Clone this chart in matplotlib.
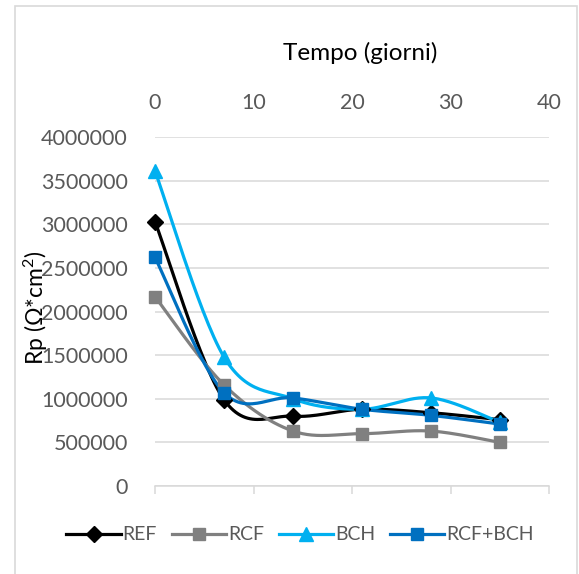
import numpy as np
import matplotlib
matplotlib.use("Agg")
import matplotlib.pyplot as plt
from matplotlib.patches import Rectangle

plt.rcParams['font.family'] = ['Lato', 'DejaVu Sans']
plt.rcParams['mathtext.fontset'] = 'custom'
plt.rcParams['mathtext.rm'] = 'Lato'
plt.rcParams['mathtext.it'] = 'Lato'

days = [0, 7, 14, 21, 28, 35]
ref = [3030000, 990000, 800000, 880000, 840000, 760000]
rcf = [2170000, 1160000, 630000, 600000, 630000, 500000]
bch = [3610000, 1480000, 1000000, 880000, 1010000, 730000]
rcf_bch = [2620000, 1070000, 1010000, 880000, 810000, 710000]

series = [
    ("REF", ref, "#000000", "D", 8),
    ("RCF", rcf, "#808080", "s", 9),
    ("BCH", bch, "#00B0F0", "^", 10),
    ("RCF+BCH", rcf_bch, "#0070C0", "s", 9),
]

x_ticks = [0, 10, 20, 30, 40]
y_ticks = list(range(0, 4000001, 500000))


def smooth(xs, ys, n=30):
    """Cubic Bezier smoothing through the points (Catmull-Rom control points)."""
    xs = np.asarray(xs, float)
    ys = np.asarray(ys, float)
    pts = np.column_stack([xs, ys])
    m = len(pts)
    out = [pts[0]]
    t = np.linspace(0, 1, n)[1:, None]
    for i in range(m - 1):
        p0 = pts[i - 1] if i > 0 else pts[i]
        p1 = pts[i]
        p2 = pts[i + 1]
        p3 = pts[i + 2] if i + 2 < m else pts[i + 1]
        c1 = p1 + (p2 - p0) / 6.0
        c2 = p2 - (p3 - p1) / 6.0
        seg = ((1 - t) ** 3) * p1 + 3 * ((1 - t) ** 2) * t * c1 + 3 * (1 - t) * t ** 2 * c2 + t ** 3 * p2
        out.extend(seg)
    out = np.array(out)
    return out[:, 0], out[:, 1]


fig = plt.figure(figsize=(5.79, 5.74), dpi=100)
W, H = 579, 574
left, right, top, bottom = 155, 549, 137, 486
ax = fig.add_axes([left / W, 1 - bottom / H, (right - left) / W, (bottom - top) / H])

for name, vals, col, mk, ms in series:
    sx, sy = smooth(days, vals)
    ax.plot(sx, sy, color=col, lw=2.3, solid_capstyle='round', clip_on=False, zorder=3)
    ax.plot(days, vals, linestyle='none', marker=mk, color=col, markersize=ms,
            clip_on=False, zorder=4)
    ax.plot([], [], color=col, lw=2.3, marker=mk, markersize=ms, label=name)

ax.set_xlim(0, 40)
ax.set_ylim(0, 4000000)
ax.set_xticks(x_ticks)
ax.set_yticks(y_ticks)
ax.set_yticklabels([str(v) for v in y_ticks])

ax.grid(axis='y', color='#D9D9D9', lw=1.1)
ax.set_axisbelow(True)
for s in ['left', 'right', 'top']:
    ax.spines[s].set_visible(False)
ax.spines['bottom'].set_color('#D9D9D9')
ax.spines['bottom'].set_linewidth(1.1)

ax.tick_params(axis='x', bottom=True, top=False, labelbottom=False, labeltop=True,
               direction='out', length=6, width=1.1, color='#D9D9D9',
               labelsize=15.5, labelcolor='#595959', pad=11)
ax.tick_params(axis='y', left=False, labelsize=15.5, labelcolor='#595959', pad=16)

ax.xaxis.set_label_position('top')
ax.set_xlabel("Tempo (giorni)", fontsize=17.5, color='#000000')
ax.xaxis.set_label_coords((360 - left) / (right - left), (bottom - 60) / (bottom - top))
ax.set_ylabel("Rp (Ω*cm$^2$)", fontsize=16.5, color='#000000')
ax.yaxis.set_label_coords((50 - left) / (right - left), (bottom - 308) / (bottom - top))

leg = fig.legend(loc='center', bbox_to_anchor=(300 / W, 1 - 535 / H), ncol=4,
                 frameon=False, fontsize=14, handlelength=2.8, handletextpad=0.1,
                 columnspacing=0.75, labelcolor='#595959')

fig.patches.append(Rectangle((15 / W, -0.01), (577 - 15) / W, 1 - 6 / H + 0.01,
                             transform=fig.transFigure, fill=False,
                             edgecolor='#D9D9D9', lw=1.2))

fig.savefig("out.png", dpi=100, facecolor='white')
